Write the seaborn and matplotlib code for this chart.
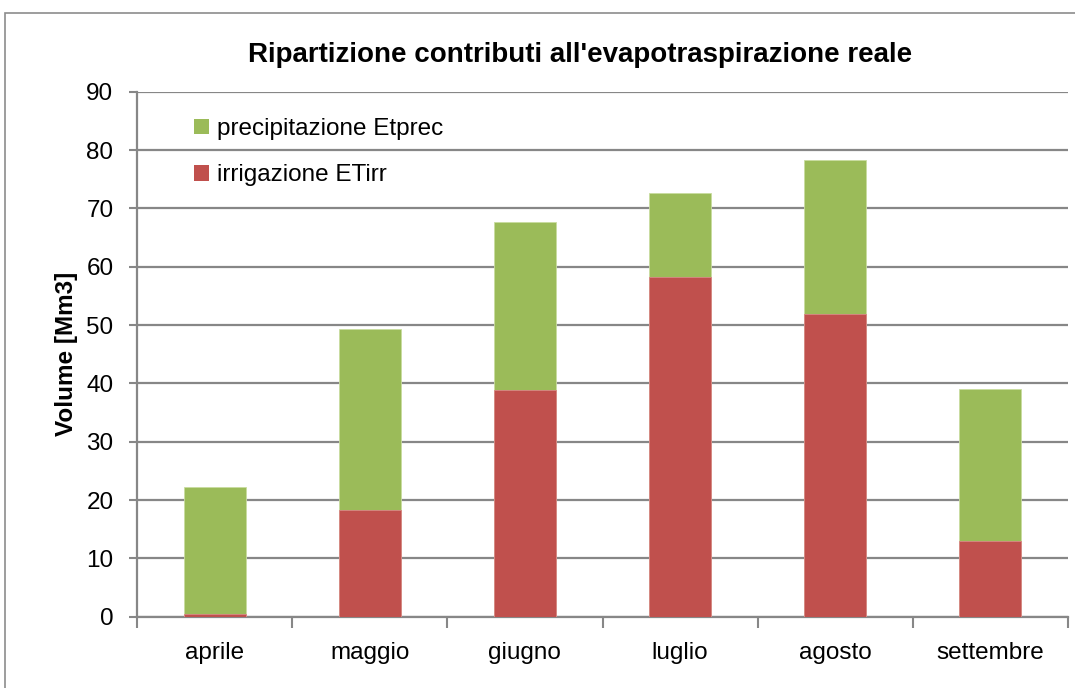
import matplotlib
matplotlib.use("Agg")
import matplotlib.pyplot as plt
from matplotlib.patches import Rectangle, Patch
import seaborn as sns
import pandas as pd

months = ["aprile", "maggio", "giugno", "luglio", "agosto", "settembre"]
irrigazione = [0.5, 18.3, 38.8, 58.2, 51.9, 12.9]
precipitazione = [21.7, 31.0, 28.8, 14.5, 26.4, 26.1]
yticks = [0, 10, 20, 30, 40, 50, 60, 70, 80, 90]

GREEN = "#9BBB59"
RED = "#C0504D"
GRID = "#878787"

sns.set_style("white")
plt.rcParams["font.family"] = ["Liberation Sans", "DejaVu Sans"]
plt.rcParams["text.color"] = "black"
plt.rcParams["axes.labelcolor"] = "black"

df = pd.DataFrame({
    "mese": months,
    "irr": irrigazione,
    "prec": precipitazione,
})
df["totale"] = df["irr"] + df["prec"]

fig = plt.figure(figsize=(10.75, 6.88), dpi=100)
ax = fig.add_axes([137 / 1075, 1 - 616.7 / 688, (1068 - 137) / 1075, (616.7 - 91.7) / 688])

# outer chart frame
fig.patches.append(Rectangle((5 / 1075, -0.05), 1.2, 1 - 13 / 688 + 0.05,
                             transform=fig.transFigure, fill=False,
                             edgecolor="#8c8c8c", linewidth=1.2))

sns.barplot(data=df, x="mese", y="totale", color=GREEN, width=0.4,
            edgecolor="#c9dca0", linewidth=0.6, ax=ax, saturation=1, zorder=3)
sns.barplot(data=df, x="mese", y="irr", color=RED, width=0.4,
            edgecolor="#d98886", linewidth=0.6, ax=ax, saturation=1, zorder=4)

ax.set_ylim(0, 90)
ax.set_xlim(-0.5, len(months) - 0.5)
ax.set_yticks(yticks)
ax.yaxis.grid(True, color=GRID, linewidth=1.6, zorder=0)
ax.set_axisbelow(True)

for side in ["top", "right"]:
    ax.spines[side].set_visible(False)
for side in ["left", "bottom"]:
    ax.spines[side].set_color(GRID)
    ax.spines[side].set_linewidth(1.6)

ax.tick_params(axis="y", which="major", left=True, length=6, width=1.5,
               color=GRID, labelcolor="black", labelsize=17.5, pad=11)
ax.tick_params(axis="x", which="major", bottom=False, labelcolor="black",
               labelsize=17.5, pad=15)
ax.set_xticks(range(len(months)))
ax.set_xticklabels(months)
ax.set_xticks([i + 0.5 for i in range(-1, len(months))], minor=True)
ax.tick_params(axis="x", which="minor", bottom=True, length=8, width=1.5, color=GRID)

ax.set_xlabel("")
ax.set_ylabel("Volume [Mm3]", fontsize=17.5, fontweight="bold", labelpad=6)

fig.text(580 / 1075, 1 - 55 / 688, "Ripartizione contributi all'evapotraspirazione reale",
         ha="center", va="center", fontsize=20, fontweight="bold")

handles = [Patch(facecolor=GREEN, edgecolor="none"), Patch(facecolor=RED, edgecolor="none")]
ax.legend(handles, ["precipitazione Etprec", "irrigazione ETirr"],
          loc="upper left", bbox_to_anchor=(182 / 1075, 1 - 106 / 688),
          bbox_transform=fig.transFigure, frameon=False, fontsize=17.5, borderpad=0,
          handlelength=0.62, handleheight=0.62, handletextpad=0.3, labelspacing=1.0)

fig.savefig("out.png", dpi=100)
